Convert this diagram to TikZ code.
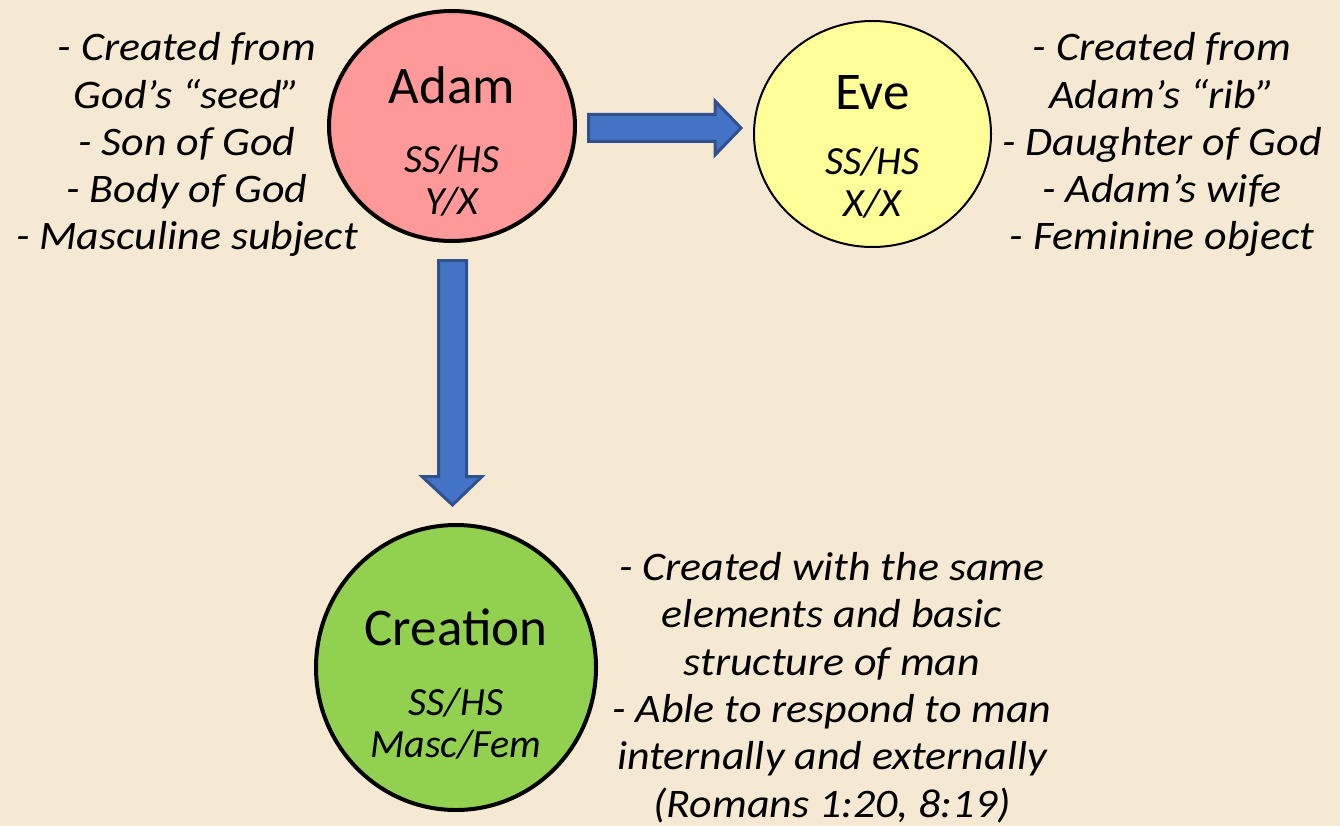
\documentclass[tikz,border=0pt]{standalone}
\usepackage{fontspec}
\setmainfont{Carlito}
\newfontfamily\descfont{Carlito}[FakeStretch=1.085]
\usetikzlibrary{shapes.geometric}
\definecolor{bg}{RGB}{246,233,212}
\definecolor{adamfill}{RGB}{255,153,153}
\definecolor{evefill}{RGB}{255,255,153}
\definecolor{creafill}{RGB}{146,208,80}
\definecolor{arrfill}{RGB}{68,114,196}
\definecolor{arrline}{RGB}{47,82,143}
\tikzset{
  bubble/.style={ellipse, draw=black, inner sep=0pt},
  bigname/.style={anchor=base, inner sep=0pt, font=\fontsize{53}{60}\selectfont},
  sublabel/.style={anchor=base, inner sep=0pt, align=center, font=\fontsize{40}{42}\selectfont\itshape},
  desc/.style={anchor=base, inner sep=0pt, align=center, font=\descfont\fontsize{40.5}{47.3}\selectfont\itshape},
  blockarrow/.style={fill=arrfill, draw=arrline, line width=3pt, line join=miter}
}
\begin{document}
\begin{tikzpicture}[x=1pt,y=-1pt]
\fill[bg] (0,0) rectangle (1340,826);
\useasboundingbox (0,0) rectangle (1340,826);
% circles
\node[bubble, fill=adamfill, line width=4pt, minimum width=246pt, minimum height=230pt] (adam) at (452,126) {};
\node[bubble, fill=evefill, line width=2pt, minimum width=237pt, minimum height=226pt] (eve) at (872.5,134) {};
\node[bubble, fill=creafill, line width=4pt, minimum width=280pt, minimum height=285pt] (creation) at (456,667.5) {};
% names
\node[bigname] (adamname) at (452,104) {Adam};
\node[bigname] (evename) at (872.5,110) {Eve};
\node[bigname] (creaname) at (456,645) {Creation};
% sublabels
\node[sublabel] (adamsub) at (452,215) {SS/HS\\Y/X};
\node[sublabel] (evesub) at (872.5,217) {SS/HS\\X/X};
\node[sublabel] (creasub) at (456,757) {SS/HS\\Masc/Fem};
% descriptions
\node[desc] (adamdesc) at (187,250) {- Created from\\God’s “seed”\\- Son of God\\- Body of God\\- Masculine subject};
\node[desc] (evedesc) at (1162,250) {- Created from\\Adam’s “rib”\\- Daughter of God\\- Adam’s wife\\- Feminine object};
\node[desc] (creadesc) at (832,817) {- Created with the same\\elements and basic\\structure of man\\- Able to respond to man\\internally and externally\\(Romans 1:20, 8:19)};
% block arrows
\coordinate (r0) at (588.5,114.5);
\draw[blockarrow] (r0) -- (715,114.5) -- (715,101) -- (741,128) -- (715,155) -- (715,141.5) -- (588.5,141.5) -- cycle;
\coordinate (d0) at (438.5,260.5);
\draw[blockarrow] (d0) -- (466.5,260.5) -- (466.5,476.5) -- (482,476.5) -- (452.5,505) -- (422,476.5) -- (438.5,476.5) -- cycle;
\end{tikzpicture}
\end{document}
